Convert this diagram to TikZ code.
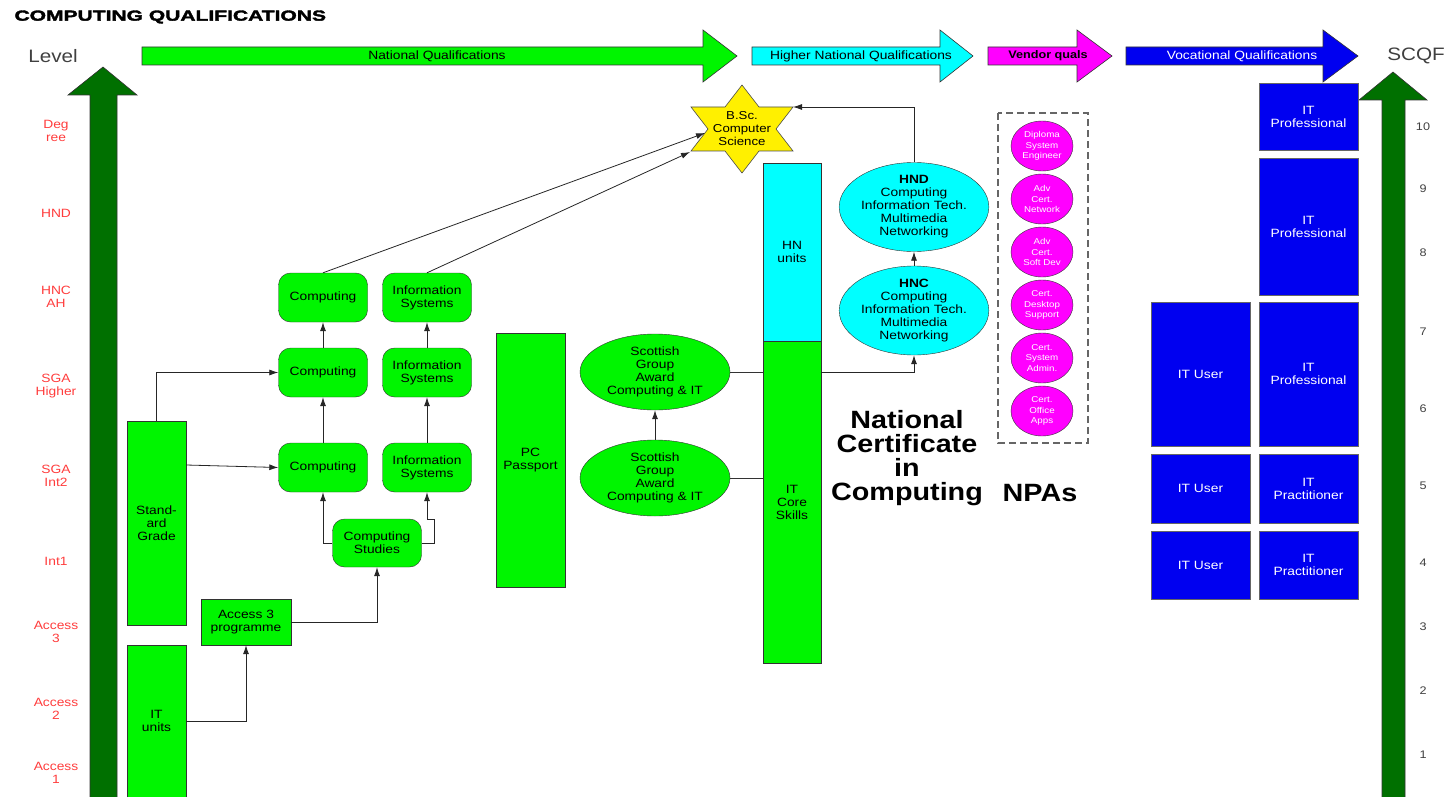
\documentclass[tikz,border=0pt]{standalone}
\usepackage{fontspec}
\setmainfont[FakeStretch=1.15]{Liberation Sans}
\newfontfamily\titlefont[FakeStretch=1.45,FakeBold=2.5]{Liberation Sans}
\usetikzlibrary{arrows,arrows.meta,shapes.geometric,positioning,calc}
\definecolor{qgreen}{RGB}{0,245,0}
\definecolor{qdark}{RGB}{0,112,0}
\definecolor{qcyan}{RGB}{0,255,255}
\definecolor{qmagenta}{RGB}{255,0,255}
\definecolor{qblue}{RGB}{0,0,240}
\definecolor{qyellow}{RGB}{255,240,0}
\definecolor{qred}{RGB}{255,60,60}

\begin{document}
\begin{tikzpicture}[x=1pt,y=-1pt,
  qbox/.style={draw=black!80,fill=qgreen,inner sep=0pt,align=center,font=\fontsize{12}{13}\selectfont},
  rbox/.style={qbox,rounded corners=12pt,minimum width=89pt,minimum height=49pt},
  oval/.style={qbox,ellipse,minimum width=150pt,minimum height=76pt},
  hnoval/.style={qbox,ellipse,fill=qcyan,minimum width=147pt,minimum height=89pt},
  npa/.style={ellipse,draw=black!80,fill=qmagenta,text=white,inner sep=0pt,align=center,minimum width=62pt,minimum height=50pt,font=\fontsize{8.5}{10.5}\selectfont},
  vbox/.style={draw=black!60,fill=qblue,text=white,inner sep=0pt,align=center,minimum width=99pt,font=\fontsize{12}{13}\selectfont},
  lvl/.style={text=qred,align=center,font=\fontsize{12}{13}\selectfont},
  num/.style={text=black!75,font=\fontsize{11}{12}\selectfont},
  bigarrow/.style={draw=black!80,line width=0.6pt},
  link/.style={-{Latex[length=9pt,width=6pt]},draw=black!85,line width=0.8pt}]
\useasboundingbox (0,0) rectangle (1448,797);

\node (title) [anchor=west] at (11,17) {\titlefont\bfseries\fontsize{14.5}{14.5}\selectfont COMPUTING QUALIFICATIONS};
\node (level) at (53,56) {\fontsize{18}{18}\selectfont\color{black!75}Level};
\node (scqf) at (1416,56) {\fontsize{18}{18}\selectfont\color{black!75}SCQF};

% level arrows
\filldraw[bigarrow,fill=qdark] (90,800) -- (90,95) -- (68,95) -- (103,67) -- (137,95) -- (117,95) -- (117,800) -- cycle;
\filldraw[bigarrow,fill=qdark] (1382,800) -- (1382,100) -- (1359,100) -- (1393,72) -- (1427,100) -- (1405,100) -- (1405,800) -- cycle;

% qualification arrows
\filldraw[bigarrow,fill=qgreen] (142,47) -- (703,47) -- (703,30) -- (737,56) -- (703,82) -- (703,65) -- (142,65) -- cycle;
\filldraw[bigarrow,fill=qcyan] (752,47) -- (940,47) -- (940,30) -- (973,56) -- (940,82) -- (940,65) -- (752,65) -- cycle;
\filldraw[bigarrow,fill=qmagenta] (988,47) -- (1077,47) -- (1077,30) -- (1112,56) -- (1077,82) -- (1077,65) -- (988,65) -- cycle;
\filldraw[bigarrow,fill=qblue] (1126,47) -- (1323,47) -- (1323,30) -- (1358,56) -- (1323,82) -- (1323,65) -- (1126,65) -- cycle;
\node (nq) at (437,56) {\fontsize{12}{12}\selectfont National Qualifications};
\node (hnq) at (861,56) {\fontsize{12}{12}\selectfont Higher National Qualifications};
\node (vq) at (1048,56) {\fontsize{11}{11}\selectfont\bfseries Vendor quals};
\node (voq) at (1242,56) [text=white] {\fontsize{12}{12}\selectfont Vocational Qualifications};

\node (l10) [lvl] at (56,131) {Deg\\ree};
\node (l9) [lvl] at (56,213) {HND};
\node (l8) [lvl] at (56,297) {HNC\\AH};
\node (l7) [lvl] at (56,386) {SGA\\Higher};
\node (l6) [lvl] at (56,476) {SGA\\Int2};
\node (l5) [lvl] at (56,561) {Int1};
\node (l4) [lvl] at (56,632) {Access\\3};
\node (l3) [lvl] at (56,709) {Access\\2};
\node (l2) [lvl] at (56,773) {Access\\1};

\foreach \n/\y in {10/127,9/189,8/253,7/332,6/409,5/486,4/563,3/627,2/691,1/755}
  \node (s\n) [num] at (1423,\y) {\n};

% national qualifications
\node (stdg) [qbox,minimum width=59pt,minimum height=204pt] at (156.5,523) {Stand-\\ard\\Grade};
\node (itu) [qbox,minimum width=59pt,minimum height=152pt] at (156.5,721) {IT\\units};
\node (acc3) [qbox,minimum width=90pt,minimum height=46pt] at (246,622) {Access 3\\programme};
\node (comp1) [rbox] at (323,467.5) {Computing};
\node (comp2) [rbox] at (323,372.5) {Computing};
\node (comp3) [rbox] at (323,297.5) {Computing};
\node (is1) [rbox] at (427,467.5) {Information\\Systems};
\node (is2) [rbox] at (427,372.5) {Information\\Systems};
\node (is3) [rbox] at (427,297.5) {Information\\Systems};
\node (cstud) [rbox,minimum height=48pt] at (377,543) {Computing\\Studies};
\node (pcp) [qbox,minimum width=69pt,minimum height=254pt] at (530.5,460) {PC\\Passport};
\node (sga2) [oval] at (655,372) {Scottish\\Group\\Award\\Computing \& IT};
\node (sga1) [oval] at (655,478) {Scottish\\Group\\Award\\Computing \& IT};
\node (hnu) [qbox,fill=qcyan,minimum width=58pt,minimum height=178pt] at (792,252) {HN\\units};
\node (core) [qbox,minimum width=58pt,minimum height=322pt] at (792,502) {IT\\Core\\Skills};
\node (hnd) [hnoval] at (914,207) {\textbf{HND}\\Computing\\Information Tech.\\Multimedia\\Networking};
\node (hnc) [hnoval] at (914,310.5) {\textbf{HNC}\\Computing\\Information Tech.\\Multimedia\\Networking};
\node (nc) [align=center,font=\fontsize{25}{24}\selectfont\bfseries] at (907,458) {National\\Certificate\\in\\Computing};
\node (npas) [font=\fontsize{25}{24}\selectfont\bfseries] at (1040,493) {NPAs};

% degree
\filldraw[draw=black!70,fill=qyellow,line width=0.6pt] (742,85) -- (759,107) -- (793,107) -- (776,129) -- (793,151) -- (759,151) -- (742,173) -- (725,151) -- (691,151) -- (708,129) -- (691,107) -- (725,107) -- cycle;
\node (bsc) [align=center,font=\fontsize{11.5}{13}\selectfont] at (742,129) {B.Sc.\\Computer\\Science};
\coordinate (bscw) at (705,133);
\coordinate (bscsw) at (690,152);
\coordinate (bscne) at (793,107);

% vendor quals
\draw[draw=black!60,line width=1.5pt,dash pattern=on 7pt off 4pt] (998,113) rectangle (1088,443);
\node (npa1) [npa] at (1042,146) {Diploma\\System\\Engineer};
\node (npa2) [npa] at (1042,199) {Adv\\Cert.\\Network};
\node (npa3) [npa] at (1042,252) {Adv\\Cert.\\Soft Dev};
\node (npa4) [npa] at (1042,305) {Cert.\\Desktop\\Support};
\node (npa5) [npa] at (1042,358) {Cert.\\System\\Admin.};
\node (npa6) [npa] at (1042,411) {Cert.\\Office\\Apps};

% vocational
\node (vp10) [vbox,minimum height=67pt] at (1308.5,116.5) {IT\\Professional};
\node (vp89) [vbox,minimum height=137pt] at (1308.5,226.5) {IT\\Professional};
\node (vu67) [vbox,minimum height=144pt] at (1200.5,374) {IT User};
\node (vp67) [vbox,minimum height=144pt] at (1308.5,374) {IT\\Professional};
\node (vu5) [vbox,minimum height=69pt] at (1200.5,488.5) {IT User};
\node (vpr5) [vbox,minimum height=69pt] at (1308.5,488.5) {IT\\Practitioner};
\node (vu4) [vbox,minimum height=68pt] at (1200.5,565) {IT User};
\node (vpr4) [vbox,minimum height=68pt] at (1308.5,565) {IT\\Practitioner};

\draw [link] (itu.east) -| (acc3.south);
\draw [link] (acc3.east) -| (cstud.south);
\draw [link] (stdg.north) |- (comp2.west);
\draw [link] (stdg.east |- 0,465) to (comp1.west);
\draw [link] (comp1) to (comp2);
\draw [link] (comp2) to (comp3);
\draw [link] (is1) to (is2);
\draw [link] (is2) to (is3);
\draw [link] (cstud.west) -| (comp1.south);
\draw [link] (cstud.east) -| ([xshift=7pt,yshift=-27pt]is1.south) -| (is1.south);
\draw [link] (comp3.north) to (bscw);
\draw [link] (is3.north) to (bscsw);
\draw [link] (sga1) to (sga2);
\draw [draw=black!80,line width=0.8pt] (sga2.east) to (sga2.east -| core.west);
\draw [draw=black!80,line width=0.8pt] (sga1.east) to (sga1.east -| core.west);
\draw [link] (core.east |- sga2) -| (hnc.south);
\draw [link] (hnc) to (hnd);
\draw [link] (hnd.north) |- (bscne);
\end{tikzpicture}
\end{document}
